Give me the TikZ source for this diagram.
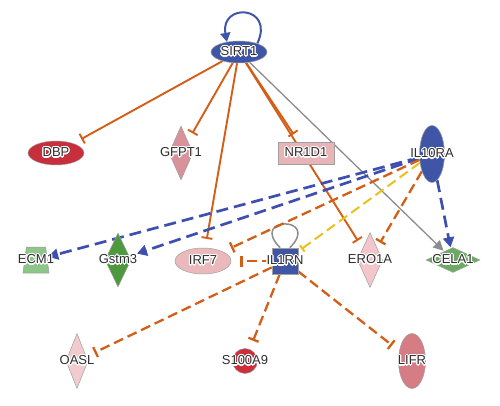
\documentclass[tikz,border=0pt]{standalone}
\usepackage{fontspec}
\setmainfont{Liberation Sans}
\usepackage{contour}
\contourlength{1.1pt}
\contournumber{16}
\usetikzlibrary{shapes.geometric,arrows.meta}
\definecolor{nblue}{HTML}{3F55A6}
\definecolor{cdbp}{HTML}{C62F3B}
\definecolor{cgfpt}{HTML}{D8939A}
\definecolor{cnr}{HTML}{E8B4B7}
\definecolor{cirf}{HTML}{EBB9BC}
\definecolor{cero}{HTML}{F2C6CA}
\definecolor{coasl}{HTML}{F2CBCE}
\definecolor{cs100}{HTML}{CC2E3A}
\definecolor{clifr}{HTML}{D67C84}
\definecolor{cecm}{HTML}{8DC58A}
\definecolor{cgstm}{HTML}{4E993D}
\definecolor{ccela}{HTML}{6CAC62}
\definecolor{orng}{HTML}{D35E17}
\definecolor{lblue}{HTML}{3F4FB0}
\definecolor{yel}{HTML}{E8C21C}
\definecolor{gry}{HTML}{8C8C8C}
\definecolor{txt}{HTML}{2E2E2E}
\definecolor{bord}{HTML}{A0A0A0}
\pgfdeclarelayer{bg}
\pgfsetlayers{bg,main}
\begin{document}
\begin{tikzpicture}[x=1pt,y=1pt,
  nd/.style={draw=bord, line width=0.5pt, inner sep=0pt},
  lab/.style={font=\fontsize{13}{13}\selectfont, text=txt, inner sep=0pt},
  inh/.style={draw=orng, line width=1.9pt, -{Bar[width=11pt]}, shorten >=9pt},
  inhd/.style={inh, line width=2.3pt, dash pattern=on 10pt off 5pt},
  actb/.style={draw=lblue, line width=2.7pt, dash pattern=on 12pt off 6pt, -{Triangle[width=11pt,length=10pt]}, shorten >=1pt},
  actg/.style={draw=gry, line width=1.3pt, -{Triangle[width=10pt,length=10pt]}, shorten >=1pt},
  yelinh/.style={draw=yel, line width=2pt, dash pattern=on 10pt off 5pt, -{Bar[width=8pt]}, shorten >=4pt}
]
\useasboundingbox (0,0) rectangle (500,-406);

% nodes
\node[nd, ellipse, fill=nblue, minimum width=56pt, minimum height=22pt, label={[lab]center:\contour{white}{SIRT1}}] (sirt1) at (239,-52) {};
\node[nd, ellipse, fill=cdbp, minimum width=56pt, minimum height=24pt, label={[lab]center:\contour{white}{DBP}}] (dbp) at (56,-153) {};
\node[nd, diamond, fill=cgfpt, minimum width=24pt, minimum height=54pt, label={[lab]center:\contour{white}{GFPT1}}] (gfpt1) at (181,-153) {};
\node[nd, rectangle, fill=cnr, minimum width=56pt, minimum height=22pt, label={[lab]center:\contour{white}{NR1D1}}] (nr1d1) at (306,-153) {};
\node[nd, ellipse, fill=nblue, minimum width=25pt, minimum height=57pt, label={[lab]center:\contour{white}{IL10RA}}] (il10ra) at (432,-154) {};
\node[nd, trapezium, inner sep=3pt, trapezium left angle=80, trapezium right angle=80, trapezium stretches=true, fill=cecm, minimum width=26pt, minimum height=26pt, label={[lab]center:\contour{white}{ECM1}}] (ecm1) at (36,-260) {};
\node[nd, diamond, fill=cgstm, minimum width=26pt, minimum height=54pt, label={[lab]center:\contour{white}{Gstm3}}] (gstm3) at (118,-260) {};
\node[nd, ellipse, fill=cirf, minimum width=56pt, minimum height=26pt, label={[lab]center:\contour{white}{IRF7}}] (irf7) at (203,-261) {};
\node[nd, rectangle, fill=nblue, minimum width=26pt, minimum height=26pt, label={[lab]center:\contour{white}{IL1RN}}] (il1rn) at (285,-261) {};
\node[nd, diamond, fill=cero, minimum width=25pt, minimum height=55pt, label={[lab]center:\contour{white}{ERO1A}}] (ero1a) at (370,-260) {};
\node[nd, diamond, fill=ccela, minimum width=54pt, minimum height=25pt, label={[lab]center:\contour{white}{CELA1}}] (cela1) at (453,-260) {};
\node[nd, diamond, fill=coasl, minimum width=22pt, minimum height=55pt, label={[lab]center:\contour{white}{OASL}}] (oasl) at (77,-361) {};
\node[nd, circle, fill=cs100, minimum size=25pt, label={[lab]center:\contour{white}{S100A9}}] (s100a9) at (245,-361) {};
\node[nd, ellipse, fill=clifr, minimum width=27pt, minimum height=55pt, label={[lab]center:\contour{white}{LIFR}}] (lifr) at (412,-361) {};

\begin{pgfonlayer}{bg}
% self loops
\draw[draw=nblue, line width=2pt, -{Triangle[width=10pt,length=9pt]}] (sirt1.25) .. controls +(65:42) and +(100:40) .. (sirt1.140);
\draw[draw=gry, line width=1.5pt] (il1rn.110) .. controls +(135:45) and +(45:45) .. (il1rn.70);
% SIRT1 edges
\draw[inh] (sirt1) -- (dbp);
\draw[inh] (sirt1) -- (gfpt1);
\draw[inh] (sirt1) -- (irf7);
\draw[inh] (sirt1) -- (nr1d1);
\draw[inh] (sirt1) -- (ero1a);
\draw[actg] (sirt1) -- (cela1);
% IL10RA edges
\draw[actb] (il10ra) -- (ecm1);
\draw[actb, shorten >=8pt] (il10ra) -- (gstm3);
\draw[actb] (il10ra) -- (cela1);
\draw[inhd] (il10ra) -- (irf7);
\draw[inhd, shorten >=6pt] (il10ra) -- (ero1a);
\draw[yelinh] (il10ra) -- (il1rn);
% IL1RN edges
\draw[inhd] (il1rn) -- (irf7);
\draw[inhd] (il1rn) -- (oasl);
\draw[inhd] (il1rn) -- (s100a9);
\draw[inhd] (il1rn) -- (lifr);
\end{pgfonlayer}
\end{tikzpicture}
\end{document}
